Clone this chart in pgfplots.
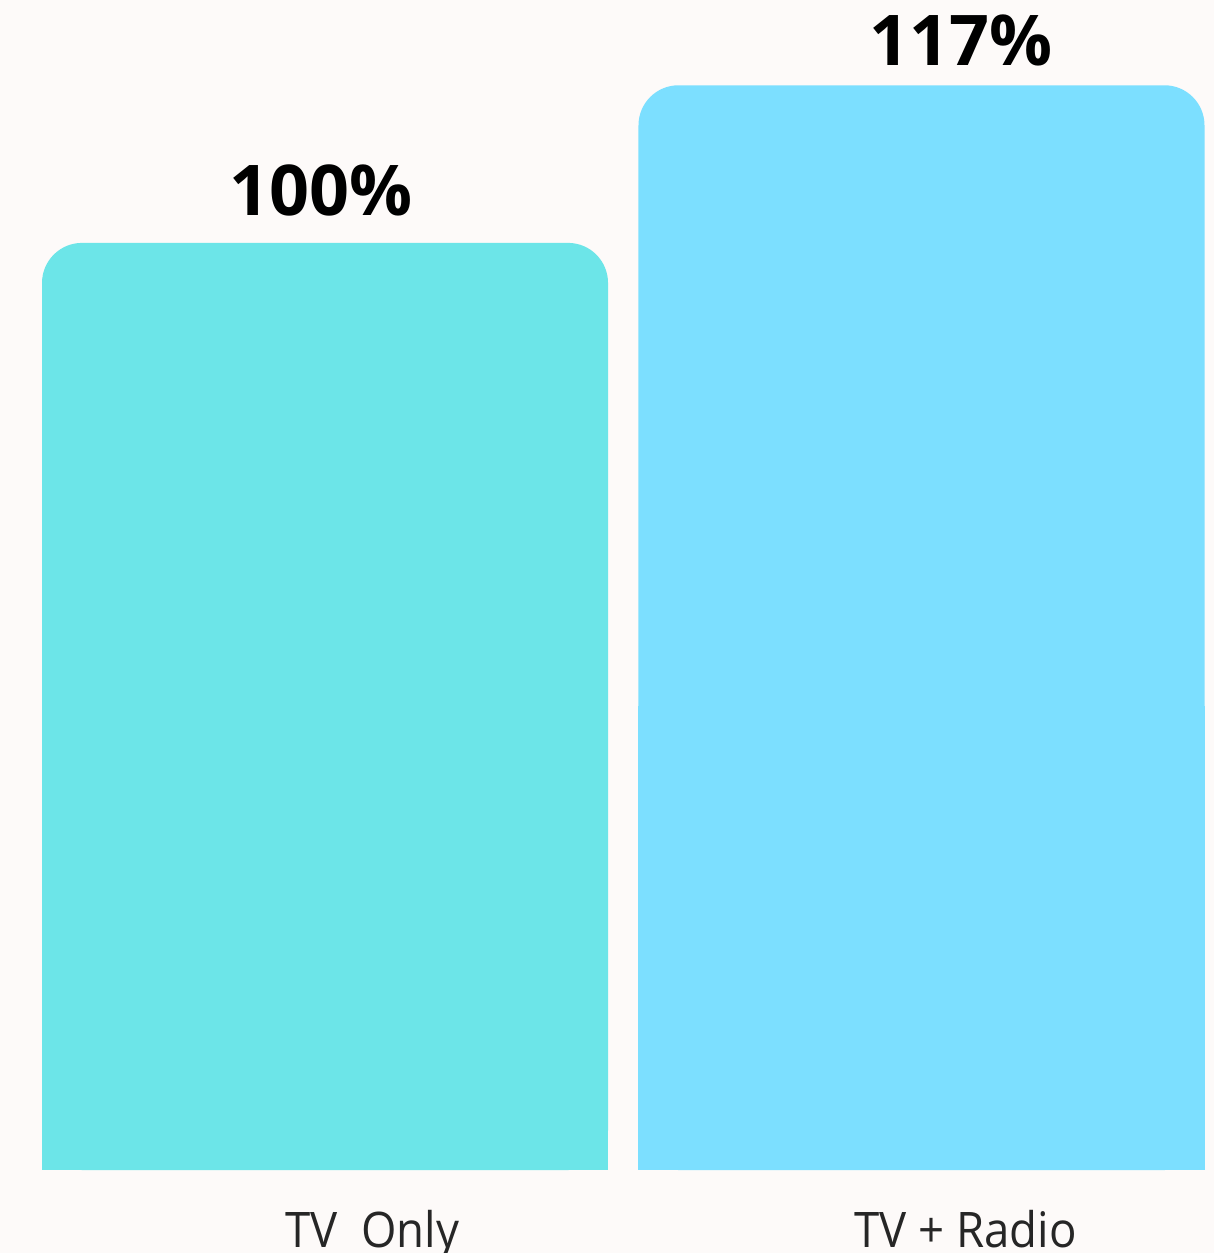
\documentclass[border=0pt]{standalone}
\usepackage{pgfplots}
\pgfplotsset{compat=1.18}
\usepackage{fontspec}
\setmainfont{Open Sans}
\newfontfamily\catfont[FakeStretch=0.93]{Open Sans}
\definecolor{bg}{HTML}{FDFAF9}
\definecolor{cone}{HTML}{6CE5E8}
\definecolor{ctwo}{HTML}{7CDFFF}
\begin{document}
\begin{tikzpicture}
\clip (0,0) rectangle (607pt,626.5pt);
\fill[bg] (0,0) rectangle (607pt,626.5pt);
\begin{axis}[
  at={(0pt,0pt)}, anchor=south west,
  scale only axis, width=607pt, height=626.5pt,
  xmin=-0.5449, xmax=1.4904, ymin=-8.95, ymax=126.2,
  axis lines=none, clip=false,
  ybar, bar width=283pt,
]
\addplot[fill=cone, draw=none, bar shift=0pt, rounded corners=20pt] coordinates {(0,100)};
\addplot[fill=cone, draw=none, bar shift=0pt] coordinates {(0,50)};
\addplot[fill=ctwo, draw=none, bar shift=0pt, rounded corners=20pt] coordinates {(1,117)};
\addplot[fill=ctwo, draw=none, bar shift=0pt] coordinates {(1,50)};
\node[anchor=base, font=\fontsize{35}{40}\selectfont\bfseries] at (axis cs:-0.006,103.0) {100\%};
\node[anchor=base, font=\fontsize{35}{40}\selectfont\bfseries] at (axis cs:1.066,119.1) {117\%};
\node[anchor=base, font=\catfont\fontsize{24.5}{28}\selectfont, text=black!85] at (axis cs:0.079,-8.41) {TV\ \ Only};
\node[anchor=base, font=\catfont\fontsize{24.5}{28}\selectfont, text=black!85] at (axis cs:1.074,-8.41) {TV + Radio};
\end{axis}
\end{tikzpicture}
\end{document}
